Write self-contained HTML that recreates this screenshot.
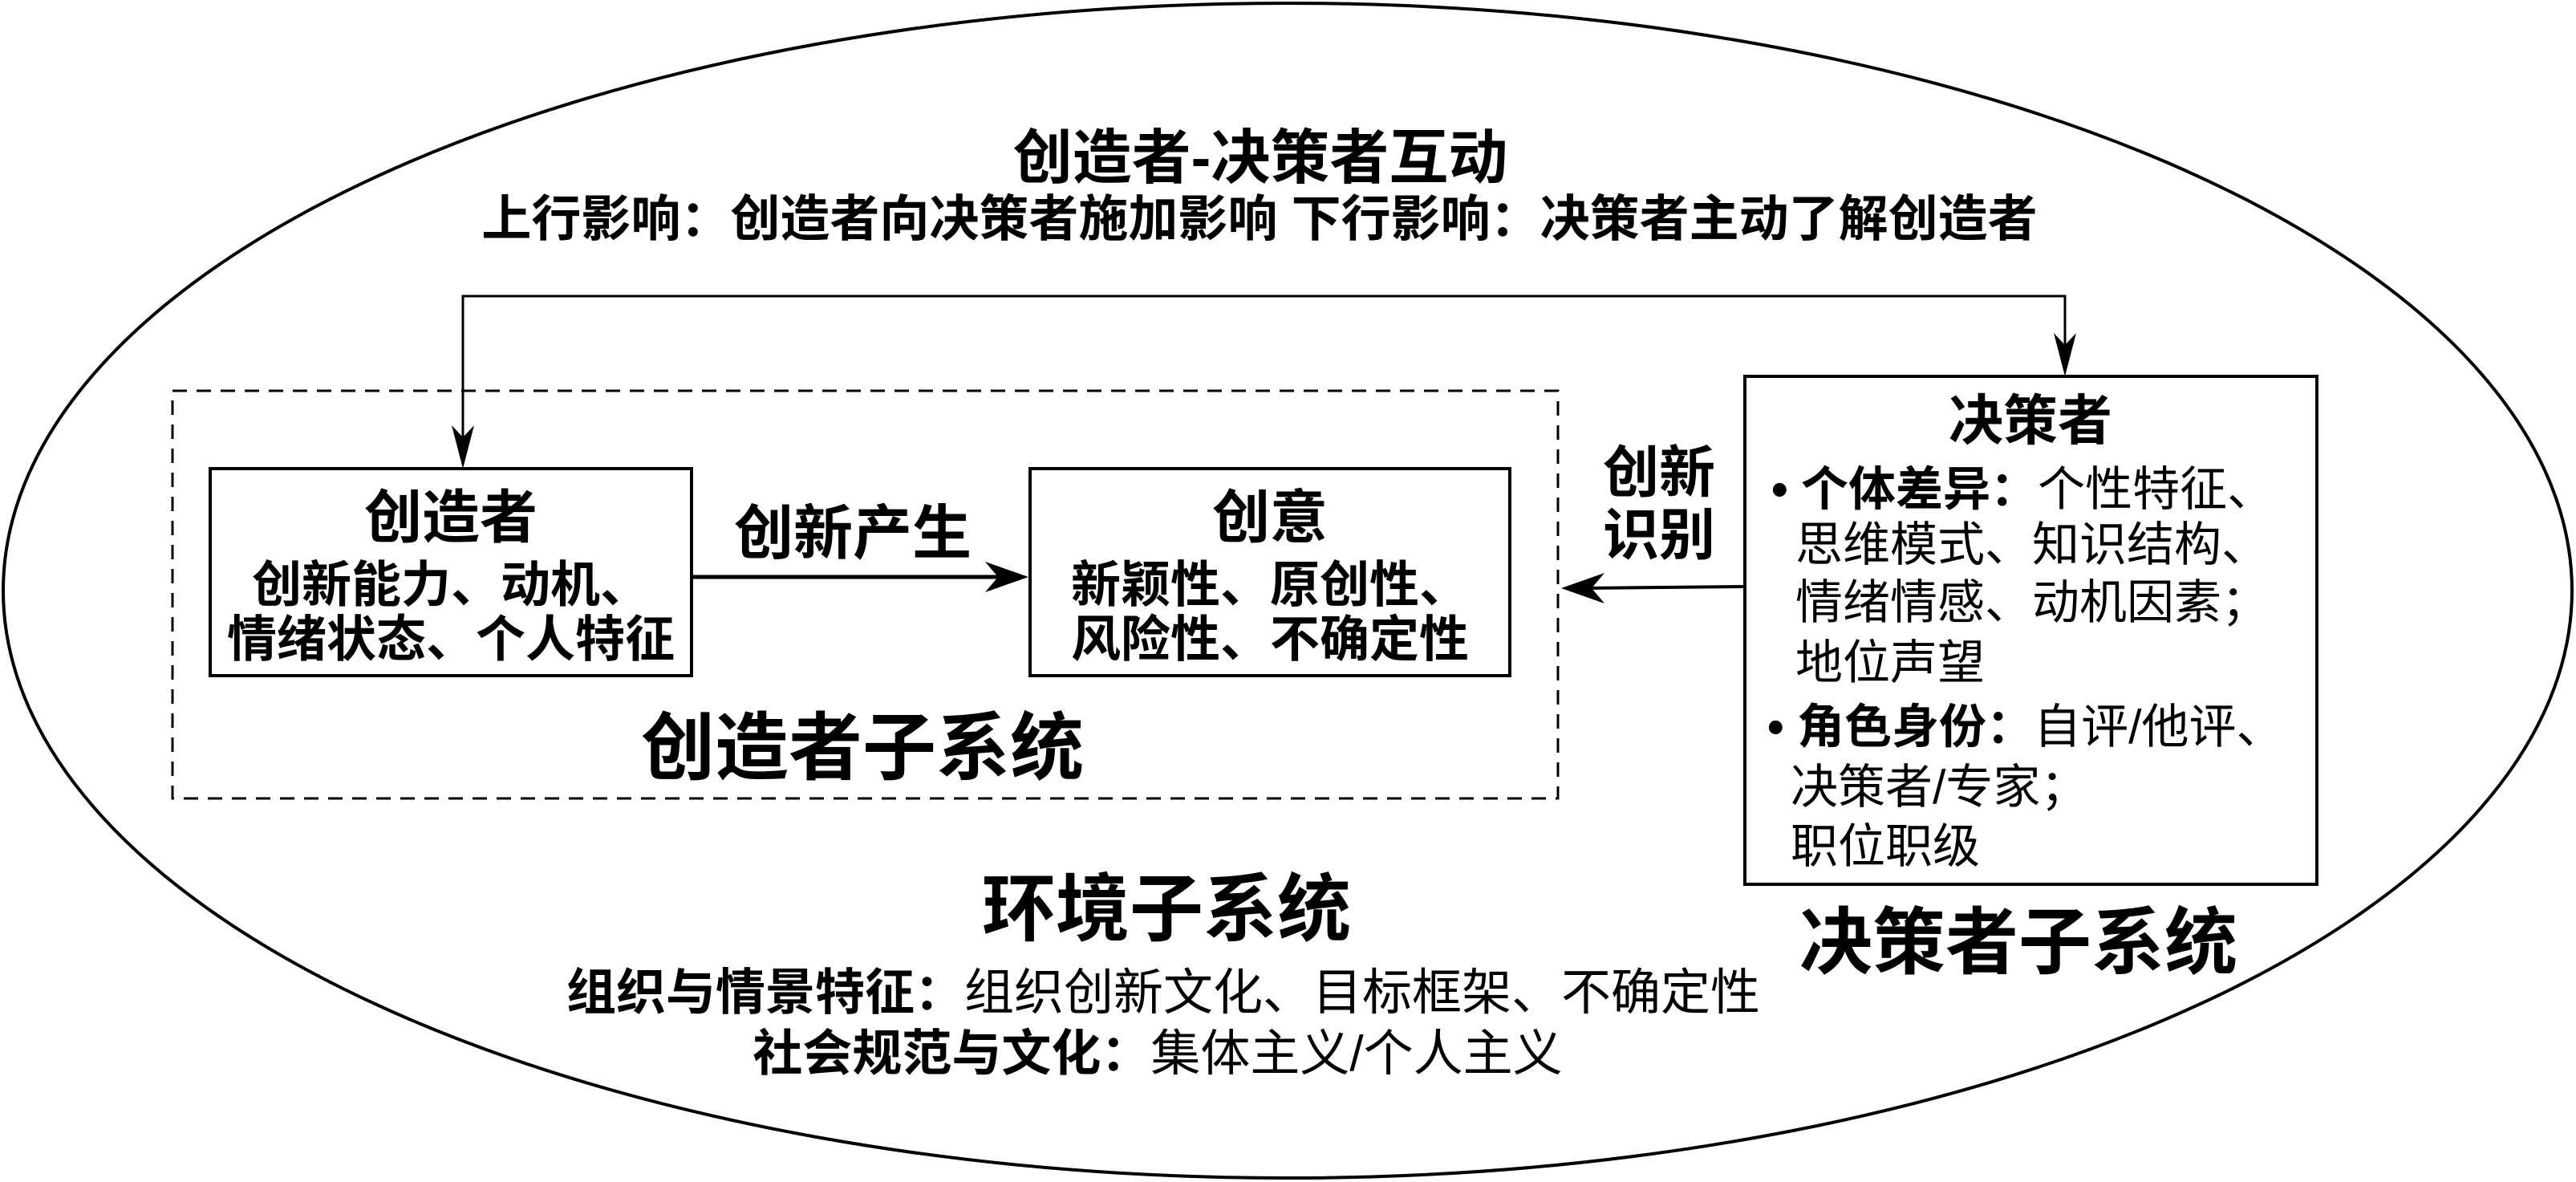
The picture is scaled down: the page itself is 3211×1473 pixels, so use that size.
<!DOCTYPE html>
<html><head><meta charset="utf-8"><style>
html,body{margin:0;padding:0;background:#fff}
svg{display:block}
text{font-family:"Liberation Sans","Noto Sans CJK SC",sans-serif;fill:#000}
.b{font-weight:bold}
</style></head><body>
<svg width="3211" height="1473" viewBox="0 0 3211 1473" xmlns="http://www.w3.org/2000/svg">
<ellipse cx="1605" cy="736" rx="1601" ry="732" fill="none" stroke="#000" stroke-width="4"/>
<text x="1571" y="222" font-size="74" text-anchor="middle" class="b">创造者-决策者互动</text>
<text x="1570" y="294" font-size="62" text-anchor="middle" class="b">上行影响：创造者向决策者施加影响 下行影响：决策者主动了解创造者</text>
<polyline points="577,555 577,369 2574,369 2574,462" fill="none" stroke="#000" stroke-width="3"/>
<path d="M577,584 L563,530 L577,545 L591,530 Z" fill="#000"/>
<path d="M2574,469 L2560,415 L2574,430 L2588,415 Z" fill="#000"/>
<rect x="215" y="487" width="1727" height="508" fill="none" stroke="#000" stroke-width="3" stroke-dasharray="18,12"/>
<rect x="262" y="584" width="600" height="258" fill="none" stroke="#000" stroke-width="4"/>
<text x="562" y="670" font-size="72" text-anchor="middle" class="b">创造者</text>
<text x="562" y="750" font-size="62" text-anchor="middle" class="b">创新能力、动机、</text>
<text x="562" y="818" font-size="62" text-anchor="middle" class="b">情绪状态、个人特征</text>
<rect x="1284" y="584" width="598" height="258" fill="none" stroke="#000" stroke-width="4"/>
<text x="1583" y="670" font-size="72" text-anchor="middle" class="b">创意</text>
<text x="1583" y="750" font-size="62" text-anchor="middle" class="b">新颖性、原创性、</text>
<text x="1583" y="818" font-size="62" text-anchor="middle" class="b">风险性、不确定性</text>
<line x1="862" y1="719" x2="1250" y2="719" stroke="#000" stroke-width="5"/>
<path d="M1282,719 L1228,700 L1244,719 L1228,738 Z" fill="#000"/>
<text x="1063" y="690" font-size="74" text-anchor="middle" class="b">创新产生</text>
<text x="1075" y="964" font-size="92" text-anchor="middle" class="b">创造者子系统</text>
<rect x="2175" y="469" width="713" height="633" fill="none" stroke="#000" stroke-width="4"/>
<text x="2531" y="548" font-size="68" text-anchor="middle" class="b">决策者</text>
<g font-size="59">
<text x="2208" y="630"><tspan class="b">• 个体差异：</tspan>个性特征、</text>
<text x="2238" y="699">思维模式、知识结构、</text>
<text x="2238" y="771">情绪情感、动机因素；</text>
<text x="2238" y="846">地位声望</text>
<text x="2203" y="926"><tspan class="b">• 角色身份：</tspan>自评/他评、</text>
<text x="2232" y="1001">决策者/专家；</text>
<text x="2232" y="1075">职位职级</text>
</g>
<line x1="2175" y1="731" x2="1975" y2="733" stroke="#000" stroke-width="4"/>
<path d="M1946,733 L2000,714 L1984,733 L2000,752 Z" fill="#000"/>
<text x="2068" y="613" font-size="70" text-anchor="middle" class="b">创新</text>
<text x="2068" y="691" font-size="70" text-anchor="middle" class="b">识别</text>
<text x="2516" y="1206" font-size="91" text-anchor="middle" class="b">决策者子系统</text>
<text x="1454" y="1165" font-size="92" text-anchor="middle" class="b">环境子系统</text>
<text x="1450" y="1258" font-size="62" text-anchor="middle"><tspan class="b">组织与情景特征：</tspan>组织创新文化、目标框架、不确定性</text>
<text x="1443" y="1334" font-size="62" text-anchor="middle"><tspan class="b">社会规范与文化：</tspan>集体主义/个人主义</text>
</svg>
</body></html>
